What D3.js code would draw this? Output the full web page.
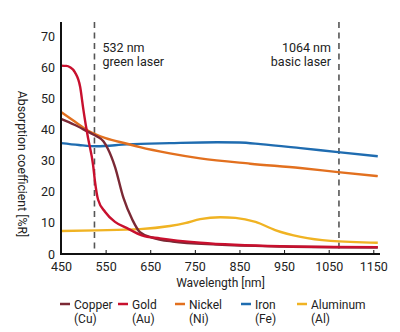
<!DOCTYPE html>
<html><head><meta charset="utf-8">
<script src="https://cdn.jsdelivr.net/npm/d3@7"></script>
<style>
html,body{margin:0;padding:0;background:#fff;}
text{font-family:Roboto,"Noto Sans",sans-serif;fill:#222;}
</style></head>
<body><svg id="c" width="400" height="332"></svg>
<script>
const xTicks = [450,550,650,750,850,950,1050,1150];
const yTicks = [0,10,20,30,40,50,60,70];
const seriesNames = ["Copper","Gold","Nickel","Iron","Aluminum"];
const seriesSymbols = ["(Cu)","(Au)","(Ni)","(Fe)","(Al)"];
const seriesColors = ["#7b2935","#c8102e","#e2701f","#1f6cb0","#f0b323"];
const copperW = [450,480,511,530,545,555,571,590,610,627,654,700,800,950,1160];
const copperV = [43.4,41.5,39.2,37.8,36.2,33.8,28,18,11,7,5.3,4,3,2.4,2.1];
const goldW = [450,462,470,481,493,500,506,511,522,526,533,549,571,598,631,672,762,942,1160];
const goldV = [60.5,60.4,60,58.4,53.6,46.5,41,37,28.5,23.5,17.5,13.5,10.3,8.3,6,5,3.6,2.5,2.2];
const nickelW = [450,480,511,550,598,627,694,762,874,986,1071,1160];
const nickelV = [45.6,42.6,39.6,37.2,35.4,34.3,32.3,30.7,29.0,27.6,26.3,25];
const ironW = [450,490,530,598,694,800,850,897,987,1071,1160];
const ironV = [35.6,35,34.6,35.2,35.6,35.9,35.8,35.3,34,32.7,31.4];
const aluminumW = [450,530,627,694,728,762,807,841,886,930,987,1054,1160];
const aluminumV = [7.4,7.6,8,9,9.9,11.2,11.8,11.6,10.3,7.7,5.5,4.2,3.6];
const laserPos = [525,1073];
const laserLabels = [["532 nm","green laser"],["1064 nm","basic laser"]];

const svg = d3.select("#c");
const x = d3.scaleLinear().domain([450,1165]).range([61,380]);
const y = d3.scaleLinear().domain([0,74.5]).range([254,22]);

const series = [
  {w:copperW,v:copperV},{w:goldW,v:goldV},{w:nickelW,v:nickelV},
  {w:ironW,v:ironV},{w:aluminumW,v:aluminumV}
];

laserPos.forEach((p,i)=>{
  svg.append("line").attr("x1",x(p)).attr("x2",x(p)).attr("y1",y(74.5)).attr("y2",y(0))
    .attr("stroke","#555").attr("stroke-width",1.6).attr("stroke-dasharray","6,4.5");
});
svg.append("text").attr("x",x(laserPos[0])+8).attr("y",52).attr("font-size",12.5).text(laserLabels[0][0]);
svg.append("text").attr("x",x(laserPos[0])+8).attr("y",66).attr("font-size",12.5).text(laserLabels[0][1]);
svg.append("text").attr("x",x(laserPos[1])-8).attr("y",52).attr("font-size",12.5).attr("text-anchor","end").text(laserLabels[1][0]);
svg.append("text").attr("x",x(laserPos[1])-8).attr("y",66).attr("font-size",12.5).attr("text-anchor","end").text(laserLabels[1][1]);

const line = d3.line().curve(d3.curveMonotoneX);
[4,3,2,0,1].forEach(i=>{
  const s = series[i];
  svg.append("path").attr("d",line(s.w.map((w,j)=>[x(w),y(s.v[j])])))
    .attr("fill","none").attr("stroke",seriesColors[i]).attr("stroke-width",2.4);
});

const xAxis = d3.axisBottom(x).tickValues(xTicks).tickSize(-4).tickPadding(8).tickFormat(d3.format("d"));
const gx = svg.append("g").attr("transform","translate(0,254)").call(xAxis);
gx.select(".domain").attr("stroke","#111").attr("stroke-width",2).attr("d",`M${x(450)-1},0H${x(1165)}`);
gx.selectAll(".tick line").attr("stroke","#111").attr("stroke-width",1);
gx.selectAll(".tick text").attr("font-size",12.5).attr("fill","#222").attr("font-family","Roboto");
gx.selectAll(".tick").filter(d=>d===450).select("line").remove();

const yAxis = d3.axisLeft(y).tickValues(yTicks).tickSize(0).tickPadding(6);
const gy = svg.append("g").attr("transform",`translate(${x(450)},0)`).call(yAxis);
gy.select(".domain").attr("stroke","#111").attr("stroke-width",2).attr("d",`M0,${y(74.5)}V${y(0)+1}`);
gy.selectAll(".tick text").attr("font-size",12.5).attr("fill","#222").attr("font-family","Roboto");

svg.append("text").attr("x",(x(450)+x(1165))/2).attr("y",287).attr("text-anchor","middle")
  .attr("font-size",12).text("Wavelength [nm]");
svg.append("text").attr("transform","translate(18,164) rotate(90)").attr("text-anchor","middle")
  .attr("font-size",12.3).text("Absorption coefficient [%R]");

const legX = [60,118,175,241,297];
const lg = svg.append("g");
seriesNames.forEach((n,i)=>{
  const g = lg.append("g").attr("transform",`translate(${legX[i]},0)`);
  g.append("line").attr("x1",0).attr("x2",10).attr("y1",304).attr("y2",304)
    .attr("stroke",seriesColors[i]).attr("stroke-width",2.5);
  g.append("text").attr("x",14).attr("y",308.5).attr("font-size",12).text(n);
  g.append("text").attr("x",14).attr("y",322.5).attr("font-size",12).text(seriesSymbols[i]);
});
</script></body></html>
